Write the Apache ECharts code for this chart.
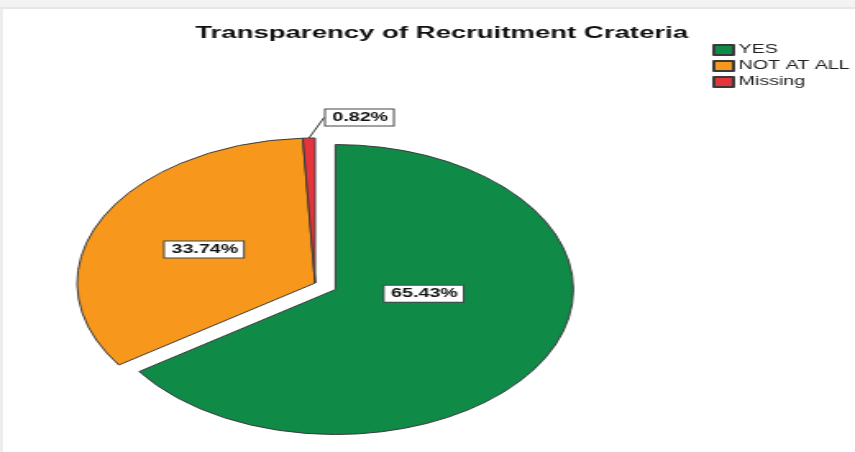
<!DOCTYPE html>
<html>
<head>
<meta charset="utf-8">
<script src="https://cdn.jsdelivr.net/npm/echarts@6/dist/echarts.min.js"></script>
<style>
    body { margin: 0; background: #fff; }
    #frameTop { position: absolute; left: 0; top: 0; width: 855px; height: 7px; background: #f3f3f3; border-bottom: 2px solid #e6e6e6; }
    #frameLeft { position: absolute; left: 0; top: 9px; width: 3px; height: 443px; background: #ededed; }
    /* the reference is a horizontally stretched picture, so draw narrow and stretch */
    #chart { position: absolute; left: 0; top: 0; width: 521px; height: 452px; transform: scaleX(1.641); transform-origin: 0 0; }
</style>
</head>
<body>
<div id="frameTop"></div>
<div id="frameLeft"></div>
<div id="chart"></div>
<script type="text/javascript">
    var titleText = "Transparency of Recruitment Crateria";
    var categories = ["YES", "NOT AT ALL", "Missing"];
    var counts = [159, 82, 2];
    var colors = ["#0f8a47", "#f7981d", "#e5343c"];

    var total = counts.reduce(function (a, b) { return a + b; }, 0);

    var pieData = [];
    for (var i = 0; i < categories.length; i++) {
        var item = { name: categories[i], value: counts[i], itemStyle: { color: colors[i] } };
        if (i === 0) {
            item.selected = true;   // YES slice pulled out
        }
        if (i === 2) {
            item.label = { position: 'outside' };
            item.labelLine = { show: true, length: 10, length2: 0, lineStyle: { color: '#333', width: 1 } };
        }
        pieData.push(item);
    }

    var myChart = echarts.init(document.getElementById('chart'));
    var option = {
        animation: false,
        title: {
            text: titleText,
            left: 114,
            top: 20,
            textStyle: { fontFamily: 'Liberation Sans', fontSize: 16.8, fontWeight: 'bold', color: '#111' }
        },
        legend: {
            orient: 'vertical',
            left: 429,
            top: 39,
            itemWidth: 12,
            itemHeight: 10,
            itemGap: 4,
            icon: 'rect',
            data: categories,
            textStyle: { fontFamily: 'Liberation Sans', fontSize: 12, color: '#222', padding: [0, 0, 0, -2] }
        },
        series: [{
            type: 'pie',
            center: [192, 283],
            radius: 145,
            startAngle: 90,
            clockwise: true,
            selectedMode: 'multiple',
            selectedOffset: 14,
            avoidLabelOverlap: false,
            itemStyle: { borderColor: '#3a3a3a', borderWidth: 1 },
            label: {
                show: true,
                position: 'inside',
                formatter: function (p) { return (p.value / total * 100).toFixed(2) + '%'; },
                fontFamily: 'Liberation Sans',
                fontWeight: 'bold',
                fontSize: 12,
                color: '#111',
                backgroundColor: '#fff',
                borderColor: '#444',
                borderWidth: 1,
                padding: [3, 3, 1, 4]
            },
            labelLine: { show: false },
            labelLayout: function (params) {
                if (params.dataIndex === 0) {
                    return { dx: -13, dy: -31 };
                }
                if (params.dataIndex === 2) {
                    return {
                        x: params.rect.x + params.rect.width + 6,
                        y: params.rect.y - 20,
                        align: 'left',
                        verticalAlign: 'middle'
                    };
                }
                return {};
            },
            emphasis: { disabled: true },
            data: pieData
        }]
    };
    myChart.setOption(option, true);
</script>
</body>
</html>
